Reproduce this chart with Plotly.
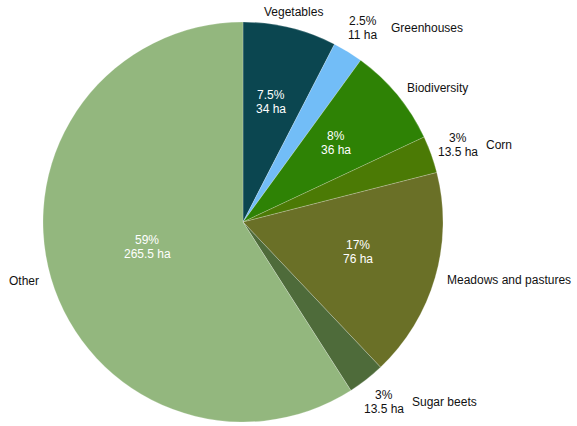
import math
import plotly.graph_objects as go

# Land use breakdown (hectares)
categories = ["Vegetables", "Greenhouses", "Biodiversity", "Corn",
              "Meadows and pastures", "Sugar beets", "Other"]
hectares = [34, 11, 36, 13.5, 76, 13.5, 265.5]
pct_labels = ["7.5%", "2.5%", "8%", "3%", "17%", "3%", "59%"]
ha_labels = ["34 ha", "11 ha", "36 ha", "13.5 ha", "76 ha", "13.5 ha", "265.5 ha"]
colors = ["#0b4650", "#72bdf7", "#2e8205", "#4b7a05",
          "#6a7027", "#4e6b3a", "#93b77e"]

W, H = 577, 426
CX, CY, R = 243, 222, 200
FONT = "Liberation Sans, Arial, Helvetica, sans-serif"
FS = 12
LINE = 14  # spacing between the two value lines, px

fig = go.Figure(go.Pie(
    labels=categories,
    values=hectares,
    sort=False,
    direction="clockwise",
    rotation=0,
    marker=dict(colors=colors, line=dict(color="rgba(255,255,255,0.35)", width=0.6)),
    textinfo="none",
    hoverinfo="label+value+percent",
    showlegend=False,
    domain=dict(x=[(CX - R) / W, (CX + R) / W],
                y=[1 - (CY + R) / H, 1 - (CY - R) / H]),
))

total = sum(hectares)


def to_paper(r, theta):
    x = CX + r * math.sin(theta)
    y = CY - r * math.cos(theta)
    return x / W, 1 - y / H


def value_pair(x, y, top, bottom, color, dy=0):
    font = dict(color=color, size=FS, family=FONT)
    return [
        dict(x=x, y=y, text=top, showarrow=False, font=font,
             xanchor="center", yanchor="middle", yshift=LINE / 2 + dy),
        dict(x=x, y=y, text=bottom, showarrow=False, font=font,
             xanchor="center", yanchor="middle", yshift=-LINE / 2 + dy),
    ]


annotations = []
cum = 0.0
for name, v, p, h in zip(categories, hectares, pct_labels, ha_labels):
    share = v / total
    theta = 2 * math.pi * (cum + share / 2)
    cum += share
    if share >= 0.05:
        # value inside the slice, category name just outside the rim
        rin = 0.5 * R if share > 0.5 else 0.6 * R
        x, y = to_paper(rin, theta)
        annotations += value_pair(x, y, p, h, "white", dy=3)
        s = math.sin(theta)
        anchor = "left" if s > 0.3 else ("right" if s < -0.3 else "center")
        rout = 1.05 * R if anchor != "center" else 1.08 * R
        x, y = to_paper(rout, theta)
        annotations.append(dict(x=x, y=y, text=name, showarrow=False,
                                font=dict(color="#111111", size=FS, family=FONT),
                                xanchor=anchor, yanchor="middle"))
    else:
        # small slice: value outside, name to its right
        x, y = to_paper(1.14 * R, theta)
        annotations += value_pair(x, y, p, h, "#111111")
        annotations.append(dict(x=x, y=y, text=name, showarrow=False, xshift=26,
                                font=dict(color="#111111", size=FS, family=FONT),
                                xanchor="left", yanchor="middle"))

fig.update_layout(
    width=W, height=H,
    margin=dict(l=0, r=0, t=0, b=0),
    paper_bgcolor="white",
    plot_bgcolor="white",
    annotations=annotations,
)

fig.write_html("out.html")
